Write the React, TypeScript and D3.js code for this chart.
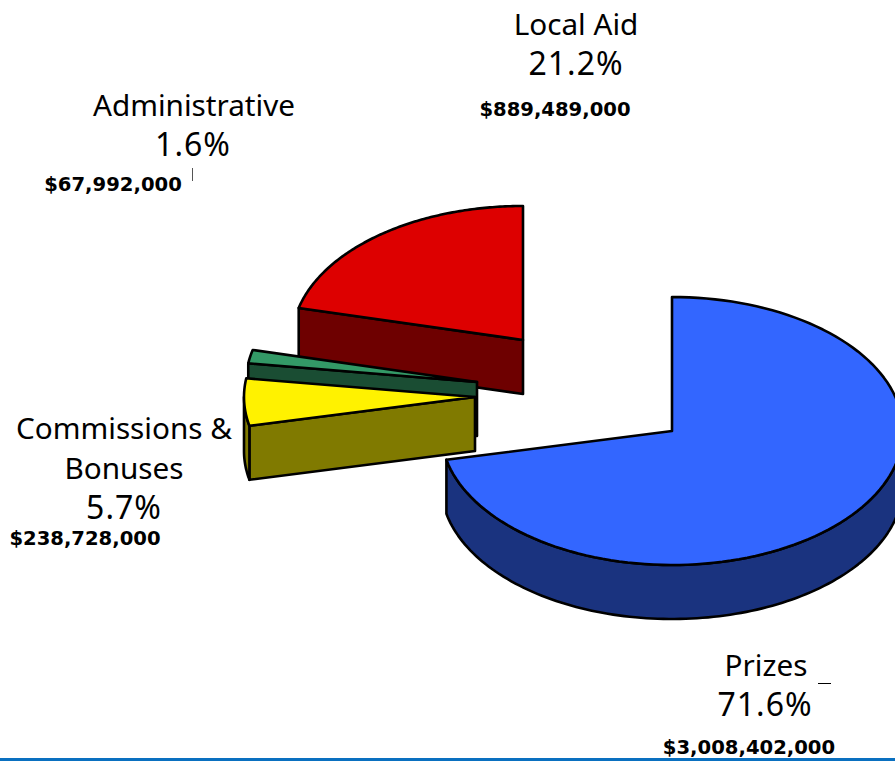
import React from "react";
import * as d3 from "d3";

const categories = ["Prizes", "Commissions & Bonuses", "Administrative", "Local Aid"];
const amounts = [3008402000, 238728000, 67992000, 889489000];
const amountLabels = ["$3,008,402,000", "$238,728,000", "$67,992,000", "$889,489,000"];
const topColors = ["#3366ff", "#fff200", "#339966", "#dd0000"];
const sideColors = ["#1a337f", "#807a00", "#1a4d33", "#6e0000"];
const apexX = [672, 475, 477, 523];
const apexY = [431, 397, 382, 340];
const drawOrder = [3, 2, 1, 0];
const RX = 231, RY = 134, DEPTH = 54;
const FONT = "'Noto Sans', sans-serif";

const nameLines = [
  { text: "Local Aid", x: 576, y: 35 },
  { text: "Administrative", x: 194, y: 116 },
  { text: "Commissions &", x: 124, y: 439 },
  { text: "Bonuses", x: 124, y: 479 },
  { text: "Prizes", x: 766, y: 676 },
];
const percentLines = [
  { text: "21.2%", x: 576, y: 75 },
  { text: "1.6%", x: 193, y: 156 },
  { text: "5.7%", x: 124, y: 519 },
  { text: "71.6%", x: 765, y: 716 },
];
const amountPos = [
  { x: 749, y: 754 },
  { x: 85, y: 545 },
  { x: 113, y: 191 },
  { x: 555, y: 116 },
];

const arcs = d3.pie<number>().sort(null).value((d) => d)(amounts);
const pt = (i: number, a: number, dz = 0): [number, number] => {
  const sx = d3.scaleLinear().domain([-1, 1]).range([apexX[i] - RX, apexX[i] + RX]);
  const sy = d3.scaleLinear().domain([-1, 1]).range([apexY[i] - RY + dz, apexY[i] + RY + dz]);
  return [sx(Math.sin(a)), sy(-Math.cos(a))];
};
const arcPts = (i: number, a0: number, a1: number, dz = 0) =>
  d3.range(0, 121).map((k) => pt(i, a0 + ((a1 - a0) * k) / 120, dz));
const line = d3.line();

export default function App() {
  return (
    <svg width={895} height={761} style={{ position: "absolute", left: 0, top: 0, display: "block", background: "#fff" }}>
      <g>
        {drawOrder.map((i) => {
          const { startAngle: a0, endAngle: a1 } = arcs[i];
          const apex: [number, number] = [apexX[i], apexY[i]];
          const apexLow: [number, number] = [apexX[i], apexY[i] + DEPTH];
          const top = [apex, ...arcPts(i, a0, a1)];
          const r0 = Math.max(a0, Math.PI / 2);
          const r1 = Math.min(a1, (3 * Math.PI) / 2);
          const rim =
            r1 > r0 ? [...arcPts(i, r0, r1), ...arcPts(i, r0, r1, DEPTH).reverse()] : null;
          const wall =
            a0 > Math.PI / 2
              ? [apex, pt(i, a0), pt(i, a0, DEPTH), apexLow]
              : null;
          return (
            <g key={categories[i]} stroke="#000" strokeWidth={2.6} strokeLinejoin="round">
              {wall && <path d={line(wall) + "Z"} fill={sideColors[i]} />}
              {rim && <path d={line(rim) + "Z"} fill={sideColors[i]} />}
              <path d={line(top) + "Z"} fill={topColors[i]} />
            </g>
          );
        })}
      </g>
      <g fontFamily={FONT} fontSize={29.7} fill="#000" textAnchor="middle">
        {nameLines.map((l) => (
          <text key={l.text} x={l.x} y={l.y}>{l.text}</text>
        ))}
      </g>
      <g fontFamily={FONT} fontSize={32} letterSpacing={1} fill="#000" textAnchor="middle">
        {percentLines.map((l) => (
          <text key={l.text} x={l.x} y={l.y}>{l.text}</text>
        ))}
      </g>
      <g fontFamily="'DejaVu Sans', sans-serif" fontSize={19.6} fontWeight="bold" fill="#000" textAnchor="middle">
        {amountLabels.map((t, i) => (
          <text key={t} x={amountPos[i].x} y={amountPos[i].y}>{t}</text>
        ))}
      </g>
      <g stroke="#000" strokeWidth={1}>
        <line x1={192.5} y1={168} x2={192.5} y2={181} stroke="#555" />
        <line x1={818} y1={683.5} x2={831} y2={683.5} />
      </g>
      <rect x={0} y={758} width={895} height={3} fill="#0a70c0" />
    </svg>
  );
}
